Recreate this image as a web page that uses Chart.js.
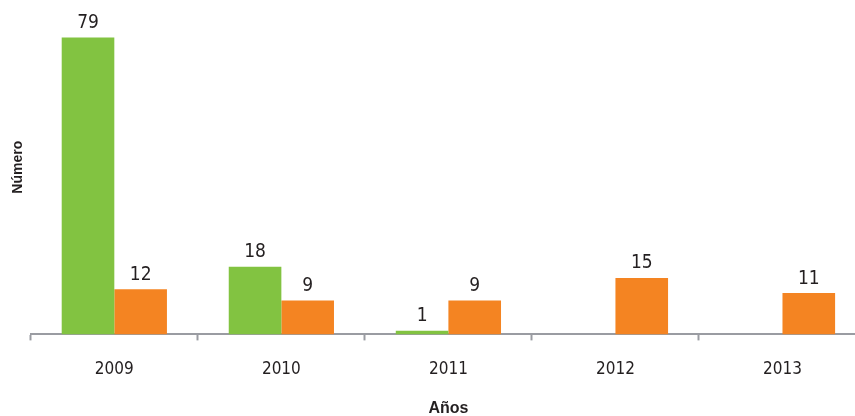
<!DOCTYPE html>
<html>
<head>
<meta charset="utf-8">
<script src="https://cdn.jsdelivr.net/npm/chart.js@4"></script>
<style>
  html, body { margin: 0; padding: 0; background: #fff; overflow: hidden; }
  #wrap { width: 866px; height: 416px; }
</style>
</head>
<body>
<div id="wrap"><canvas id="chart"></canvas></div>
<script>
const years = ['2009', '2010', '2011', '2012', '2013'];
const greenValues = [79, 18, 1, null, null];
const orangeValues = [12, 9, 9, 15, 11];

const textColor = '#231f20';
const axisColor = '#9a9ca2';
const narrow = '"Liberation Sans Narrow", "DejaVu Sans Condensed", sans-serif';

// draws the value above each bar
const valueLabels = {
    id: 'valueLabels',
    afterDatasetsDraw(chart) {
        const ctx = chart.ctx;
        ctx.save();
        ctx.font = '19px ' + narrow;
        ctx.fillStyle = textColor;
        ctx.textAlign = 'center';
        ctx.textBaseline = 'bottom';
        chart.data.datasets.forEach((ds, i) => {
            const meta = chart.getDatasetMeta(i);
            meta.data.forEach((bar, j) => {
                const v = ds.data[j];
                if (v === null || v === undefined) return;
                ctx.fillText(String(v), bar.x, bar.y - 5);
            });
        });
        ctx.restore();
    }
};

new Chart(document.getElementById('chart').getContext('2d'), {
    type: 'bar',
    data: {
        labels: years,
        datasets: [
            { data: greenValues, backgroundColor: '#82c341', categoryPercentage: 0.63, barPercentage: 1 },
            { data: orangeValues, backgroundColor: '#f48422', categoryPercentage: 0.63, barPercentage: 1 }
        ]
    },
    options: {
        responsive: true,
        maintainAspectRatio: false,
        animation: false,
        layout: { padding: { left: 6, top: 0, right: 0, bottom: -2 } },
        plugins: {
            legend: { display: false },
            tooltip: { enabled: false }
        },
        scales: {
            x: {
                grid: {
                    display: true,
                    drawOnChartArea: false,
                    drawTicks: true,
                    tickLength: 6,
                    tickWidth: 2,
                    color: axisColor
                },
                border: { display: true, color: axisColor, width: 2 },
                ticks: {
                    color: textColor,
                    font: { family: narrow, size: 17 },
                    padding: 19
                },
                title: {
                    display: true,
                    text: 'Años',
                    color: textColor,
                    font: { family: 'Liberation Sans, Arial, sans-serif', size: 16, weight: 'bold' },
                    padding: { top: 0, bottom: 0 }
                }
            },
            y: {
                min: 0,
                max: 89,
                ticks: { display: false },
                grid: { display: false, drawTicks: false },
                border: { display: false },
                title: {
                    display: true,
                    text: 'Número',
                    color: textColor,
                    font: { family: 'Liberation Sans, Arial, sans-serif', size: 14, weight: 'bold' },
                    padding: { top: 4, bottom: 4 }
                }
            }
        }
    },
    plugins: [valueLabels]
});
</script>
</body>
</html>
